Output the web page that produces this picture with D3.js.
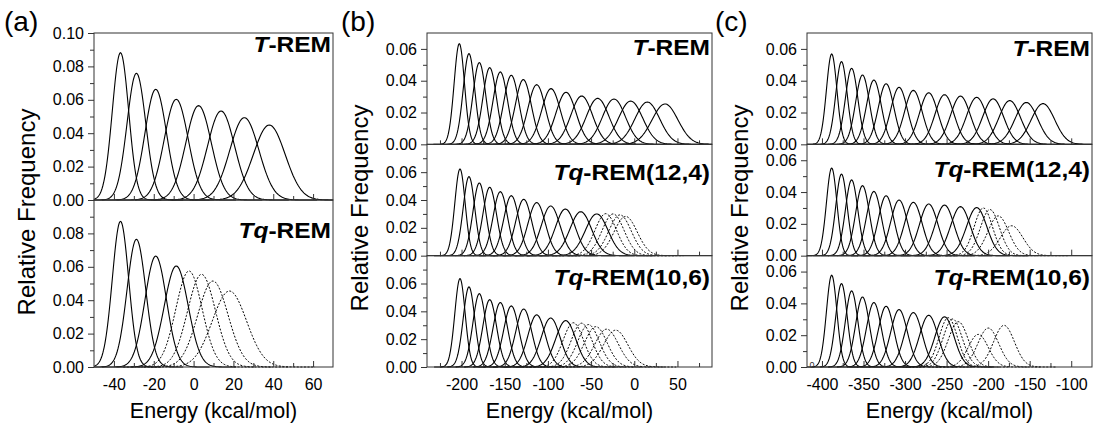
<!DOCTYPE html>
<html><head><meta charset="utf-8">
<script src="https://cdn.jsdelivr.net/npm/d3@7"></script>
<style>
body{margin:0;background:#fff}
svg{display:block;font-family:"Liberation Sans",Arial,Helvetica,sans-serif}
</style></head><body>
<svg id="chart" width="1096" height="425"></svg>
<script>
// ---------------- DATA (peak energy, peak relative frequency, spread) ----------------
// Panel (a)
const aTRemCenter = [-36.7, -28.7, -19.0, -8.7, 2.5, 13.8, 25.5, 38.0];
const aTRemPeak   = [0.0882, 0.0759, 0.0663, 0.0603, 0.0565, 0.0533, 0.0493, 0.0449];
const aTRemWidth  = [4.1, 4.7, 5.4, 6.0, 6.4, 6.8, 7.3, 8.0];
const aTqSolidCenter = [-36.7, -28.7, -19.0, -8.7];
const aTqSolidPeak   = [0.0872, 0.0765, 0.0664, 0.0605];
const aTqSolidWidth  = [4.1, 4.7, 5.4, 6.0];
const aTqDotCenter = [-2.3, 4.0, 9.7, 18.0];
const aTqDotPeak   = [0.0575, 0.0555, 0.0515, 0.0455];
const aTqDotWidth  = [6.6, 7.0, 7.6, 8.6];

// Panel (b)
const bTRemCenter = [-202.6, -191.4, -179.4, -167.4, -155.1, -142.4, -128.5, -113.0, -96.4, -79.0, -60.9, -42.4, -23.5, -4.2, 15.1, 35.6];
const bTRemPeak   = [0.0633, 0.0570, 0.0514, 0.0482, 0.0455, 0.0434, 0.0407, 0.0375, 0.0350, 0.0327, 0.0304, 0.0289, 0.0285, 0.0272, 0.0266, 0.0254];
const bTRemWidth  = [6.0, 6.7, 7.4, 7.9, 8.4, 8.8, 9.3, 10.1, 10.9, 11.6, 12.5, 13.1, 13.3, 14.0, 14.3, 15.0];
const b124SolidCenter = [-201.8, -191.4, -179.4, -167.4, -155.1, -142.4, -128.0, -113.0, -96.8, -79.8, -62.0, -43.5];
const b124SolidPeak   = [0.0623, 0.0568, 0.0522, 0.0491, 0.0460, 0.0431, 0.0405, 0.0381, 0.0357, 0.0335, 0.0316, 0.0300];
const b124SolidWidth  = [6.0, 6.7, 7.4, 7.9, 8.4, 8.8, 9.3, 10.1, 10.9, 11.6, 12.5, 13.1];
const b124DotCenter = [-33.0, -24.5, -16.5, -10.0];
const b124DotPeak   = [0.0302, 0.0300, 0.0293, 0.0282];
const b124DotWidth  = [12.5, 12.7, 13.0, 13.4];
const b106SolidCenter = [-201.8, -191.4, -179.4, -167.4, -155.1, -142.4, -128.0, -113.0, -96.8, -79.4];
const b106SolidPeak   = [0.0635, 0.0575, 0.0527, 0.0484, 0.0463, 0.0439, 0.0417, 0.0375, 0.0352, 0.0333];
const b106SolidWidth  = [6.0, 6.7, 7.4, 7.9, 8.4, 8.8, 9.3, 10.1, 10.9, 11.6];
const b106DotCenter = [-70.6, -61.0, -53.0, -44.5, -32.0, -21.5];
const b106DotPeak   = [0.0318, 0.0315, 0.0305, 0.0290, 0.0272, 0.0265];
const b106DotWidth  = [11.8, 12.0, 12.4, 13.0, 13.6, 14.0];

// Panel (c)
const cTRemCenter = [-388.3, -376.5, -364.3, -351.2, -337.5, -322.8, -307.2, -290.0, -271.5, -252.5, -233.3, -213.8, -194.0, -174.0, -154.0, -134.0];
const cTRemPeak   = [0.0568, 0.0520, 0.0478, 0.0436, 0.0404, 0.0381, 0.0358, 0.0339, 0.0324, 0.0312, 0.0303, 0.0295, 0.0286, 0.0275, 0.0263, 0.0256];
const cTRemWidth  = [6.3, 6.9, 7.5, 8.3, 8.9, 9.4, 10.1, 10.6, 11.1, 11.5, 11.9, 12.2, 12.6, 13.1, 13.7, 14.1];
const c124SolidCenter = [-388.3, -376.5, -364.3, -351.2, -337.5, -322.8, -307.2, -290.0, -271.5, -252.5, -233.3, -213.8];
const c124SolidPeak   = [0.0551, 0.0513, 0.0476, 0.0440, 0.0404, 0.0377, 0.0350, 0.0335, 0.0325, 0.0318, 0.0308, 0.0302];
const c124SolidWidth  = [6.3, 6.9, 7.5, 8.3, 8.9, 9.4, 10.1, 10.6, 11.1, 11.5, 11.9, 12.2];
const c124DotCenter = [-205.8, -197.8, -187.8, -171.7];
const c124DotPeak   = [0.0300, 0.0290, 0.0250, 0.0188];
const c124DotWidth  = [11.0, 11.5, 12.5, 13.5];
const c106SolidCenter = [-388.3, -376.5, -364.3, -351.2, -337.5, -322.8, -307.2, -290.0, -271.5, -252.5];
const c106SolidPeak   = [0.0577, 0.0524, 0.0478, 0.0440, 0.0405, 0.0382, 0.0361, 0.0342, 0.0325, 0.0316];
const c106SolidWidth  = [6.3, 6.9, 7.5, 8.3, 8.9, 9.4, 10.1, 10.6, 11.1, 11.5];
const c106DotCenter = [-248.0, -242.7, -235.9, -211.9, -199.8, -180.9];
const c106DotPeak   = [0.0310, 0.0302, 0.0285, 0.0205, 0.0245, 0.0262];
const c106DotWidth  = [11.0, 11.5, 12.0, 12.0, 12.5, 12.5];

// Tick values
const aXTicks = [-40, -20, 0, 20, 40, 60];
const aXMinor = [-30, -10, 10, 30, 50];
const bXTicks = [-200, -150, -100, -50, 0, 50];
const bXMinor = [-225, -175, -125, -75, -25, 25, 75];
const cXTicks = [-400, -350, -300, -250, -200, -150, -100];
const cXMinor = [-375, -325, -275, -225, -175, -125];
const yTicks10 = [0, 0.02, 0.04, 0.06, 0.08, 0.10];
const yTicks08 = [0, 0.02, 0.04, 0.06, 0.08];
const yTicks06 = [0, 0.02, 0.04, 0.06];
const yMinor10 = [0.01, 0.03, 0.05, 0.07, 0.09];
const yMinor08 = [0.01, 0.03, 0.05, 0.07];
const yMinor07 = [0.01, 0.03, 0.05];

// ---------------- LAYOUT ----------------
const AX = "#333";
const svg = d3.select("#chart");

const panels = [
  { x: d3.scaleLinear().domain([-50, 70]).range([94, 333]), major: aXTicks, minor: aXMinor,
    letter: "(a)", letterX: 4, ylabY: 212,
    subs: [
      { top: 33, bottom: 200, ymax: 0.10, yt: yTicks10, ym: yMinor10, t1: "T", t2: "-REM", ty: 52,
        solid: [aTRemCenter, aTRemPeak, aTRemWidth], dot: null },
      { top: 200, bottom: 367, ymax: 0.10, yt: yTicks08, ym: yMinor10, t1: "Tq", t2: "-REM", ty: 237.5,
        solid: [aTqSolidCenter, aTqSolidPeak, aTqSolidWidth], dot: [aTqDotCenter, aTqDotPeak, aTqDotWidth] }
    ] },
  { x: d3.scaleLinear().domain([-240, 90]).range([427, 712]), major: bXTicks, minor: bXMinor,
    letter: "(b)", letterX: 341, ylabY: 208,
    subs: [
      { top: 33, bottom: 144.33, ymax: 0.07, yt: yTicks06, ym: yMinor07, t1: "T", t2: "-REM", ty: 55,
        solid: [bTRemCenter, bTRemPeak, bTRemWidth], dot: null },
      { top: 144.33, bottom: 255.67, ymax: 0.08, yt: yTicks06, ym: yMinor08, t1: "Tq", t2: "-REM(12,4)", ty: 180,
        solid: [b124SolidCenter, b124SolidPeak, b124SolidWidth], dot: [b124DotCenter, b124DotPeak, b124DotWidth] },
      { top: 255.67, bottom: 367, ymax: 0.08, yt: yTicks06, ym: yMinor08, t1: "Tq", t2: "-REM(10,6)", ty: 285,
        solid: [b106SolidCenter, b106SolidPeak, b106SolidWidth], dot: [b106DotCenter, b106DotPeak, b106DotWidth] }
    ] },
  { x: d3.scaleLinear().domain([-418, -75]).range([807, 1092]), major: cXTicks, minor: cXMinor,
    letter: "(c)", letterX: 715, ylabY: 208,
    subs: [
      { top: 33, bottom: 144.33, ymax: 0.07, yt: yTicks06, ym: yMinor07, t1: "T", t2: "-REM", ty: 55.5,
        solid: [cTRemCenter, cTRemPeak, cTRemWidth], dot: null },
      { top: 144.33, bottom: 255.67, ymax: 0.07, yt: yTicks06, ym: yMinor07, t1: "Tq", t2: "-REM(12,4)", ty: 177,
        solid: [c124SolidCenter, c124SolidPeak, c124SolidWidth], dot: [c124DotCenter, c124DotPeak, c124DotWidth] },
      { top: 255.67, bottom: 367, ymax: 0.07, yt: yTicks06, ym: yMinor07, t1: "Tq", t2: "-REM(10,6)", ty: 285,
        solid: [c106SolidCenter, c106SolidPeak, c106SolidWidth], dot: [c106DotCenter, c106DotPeak, c106DotWidth] }
    ] }
];

function curvePoints(c, h, s, dom) {
  const lo = Math.max(dom[0], c - 5 * s), hi = Math.min(dom[1], c + 5 * s);
  const n = Math.ceil((hi - lo) / (s / 12));
  const pts = [];
  for (let i = 0; i <= n; i++) {
    const e = lo + (hi - lo) * i / n;
    pts.push([e, h * Math.exp(-0.5 * ((e - c) / s) ** 2)]);
  }
  return pts;
}

function styleAxis(g, fs) {
  g.attr("font-family", null).attr("font-size", null);
  g.select(".domain").remove();
  g.selectAll(".tick line").attr("stroke", AX);
  g.selectAll(".tick text").attr("fill", "#000").style("font-size", fs + "px");
}

panels.forEach(p => {
  const x = p.x;
  const [x0, x1] = x.range();
  const dom = x.domain();
  p.subs.forEach((s, si) => {
    const y = d3.scaleLinear().domain([0, s.ymax]).range([s.bottom, s.top]);
    const g = svg.append("g");
    const line = d3.line().x(d => x(d[0])).y(d => y(d[1]));
    const drawSet = (set, dashed) => {
      if (!set) return;
      const [cs, hs, ws] = set;
      cs.forEach((c, i) => {
        g.append("path")
          .attr("d", line(curvePoints(c, hs[i], ws[i], dom)))
          .attr("fill", "none")
          .attr("stroke", "#000")
          .attr("stroke-width", dashed ? 1 : 1.1)
          .attr("stroke-dasharray", dashed ? "2,1.6" : null);
      });
    };
    drawSet(s.solid, false);
    drawSet(s.dot, true);

    const isLast = si === p.subs.length - 1;
    // x ticks (inward)
    g.append("g").attr("transform", `translate(0,${s.bottom})`)
      .call(d3.axisBottom(x).tickValues(p.major).tickSize(-6).tickPadding(11.5)
        .tickFormat(isLast ? (d => String(d)) : (() => "")))
      .call(a => styleAxis(a, 16));
    g.append("g").attr("transform", `translate(0,${s.bottom})`)
      .call(d3.axisBottom(x).tickValues(p.minor).tickSize(-4).tickFormat(() => ""))
      .call(a => styleAxis(a, 16));
    // y ticks (outward)
    g.append("g").attr("transform", `translate(${x0},0)`)
      .call(d3.axisLeft(y).tickValues(s.yt).tickSize(6).tickPadding(4).tickFormat(d3.format(".2f")))
      .call(a => styleAxis(a, 16));
    g.append("g").attr("transform", `translate(${x0},0)`)
      .call(d3.axisLeft(y).tickValues(s.ym).tickSize(4).tickFormat(() => ""))
      .call(a => styleAxis(a, 16));
    // frame
    g.append("rect").attr("x", x0).attr("y", s.top).attr("width", x1 - x0).attr("height", s.bottom - s.top)
      .attr("fill", "none").attr("stroke", AX).attr("stroke-width", 1);
    // title
    const t = g.append("text")
      .attr("transform", `translate(${x1 - 2},${s.ty}) scale(1.09,1)`)
      .attr("text-anchor", "end").attr("font-weight", "bold").attr("font-size", 22.5).attr("fill", "#000");
    t.append("tspan").attr("font-style", "italic").text(s.t1);
    t.append("tspan").text(s.t2);
  });
  // labels
  svg.append("text").attr("x", (x0 + x1) / 2).attr("y", 418).attr("text-anchor", "middle")
    .attr("font-size", 21.5).text("Energy (kcal/mol)");
  svg.append("text").attr("transform", `translate(${x0 - 59},${p.ylabY}) rotate(-90)`)
    .attr("text-anchor", "middle").attr("font-size", 24).text("Relative Frequency");
  svg.append("text").attr("x", p.letterX).attr("y", 31).attr("font-size", 28).text(p.letter);
});

// small stray glyph next to the lowest "0.00" of panel (c)
svg.append("text").attr("x", 812).attr("y", 368).attr("text-anchor", "middle")
  .attr("font-size", 9).attr("fill", "#333").text("0");
</script>
</body></html>
